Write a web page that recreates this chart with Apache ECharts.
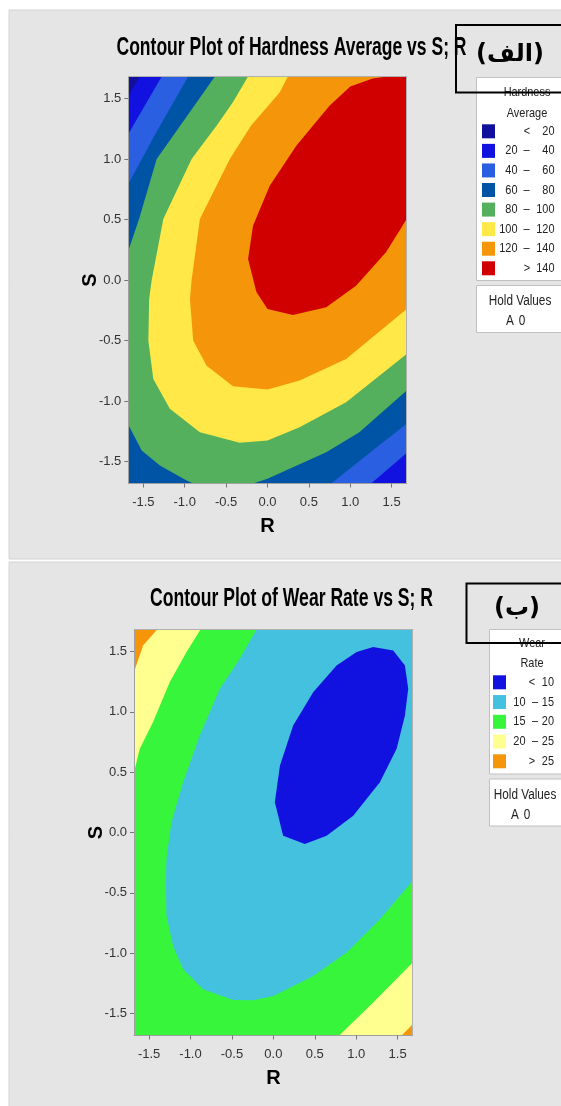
<!DOCTYPE html>
<html>
<head>
<meta charset="utf-8">
<script src="https://cdn.jsdelivr.net/npm/echarts@6.0.0/dist/echarts.min.js"></script>
<style>
html,body{margin:0;padding:0;background:#ffffff;}
#chart{width:561px;height:1106px;}
</style>
</head>
<body>
<div id="chart"></div>
<script>
// ---------------- data ----------------
const axisLimit = 1.682;
const tickValues = [-1.5, -1.0, -0.5, 0.0, 0.5, 1.0, 1.5];

const titleHardness = 'Contour Plot of Hardness Average vs S; R';
const titleWear = 'Contour Plot of Wear Rate vs S; R';

// Hardness Average bands (low label, high label, colour)
const hardnessLow = ['<', '20', '40', '60', '80', '100', '120', '>'];
const hardnessHigh = ['20', '40', '60', '80', '100', '120', '140', '140'];
const hardnessColors = ['#10109c', '#1212e0', '#2a5fe2', '#0054a6', '#54b05c', '#ffe847', '#f5960a', '#d10000'];

// Wear Rate bands
const wearLow = ['<', '10', '15', '20', '>'];
const wearHigh = ['10', '15', '20', '25', '25'];
const wearColors = ['#1212e0', '#45c1e0', '#37f53a', '#ffff90', '#f5960a'];

// Hardness superlevel regions (boundaries, in R,S units)
const hardnessAbove20 = [[-1.54, 1.682], [1.682, 1.682], [1.682, -1.682], [-1.682, -1.682], [-1.682, 1.52]];
const hardnessAbove40 = [[-1.278, 1.682], [1.682, 1.682], [1.682, -1.429], [1.252, -1.682], [-1.682, -1.682], [-1.682, 1.206]];
const hardnessAbove60 = [[-0.958, 1.682], [1.682, 1.682], [1.682, -1.189], [1.27, -1.41], [0.77, -1.682], [-1.682, -1.682], [-1.682, 0.793], [-1.36, 1.2]];
const hardnessAbove80 = [[-0.636, 1.682], [1.682, 1.682], [1.682, -0.914], [1.11, -1.258], [0.71, -1.423], [0.0, -1.643], [-0.175, -1.682], [-0.898, -1.682], [-0.977, -1.657], [-1.30, -1.533], [-1.52, -1.41], [-1.682, -1.197], [-1.682, 0.242], [-1.552, 0.504], [-1.339, 1.0], [-0.857, 1.467]];
const hardnessAbove100 = [[-0.235, 1.682], [1.682, 1.682], [1.682, -0.611], [0.95, -1.01], [0.388, -1.217], [0.0, -1.327], [-0.335, -1.346], [-0.817, -1.258], [-1.18, -1.065], [-1.38, -0.818], [-1.44, -0.5], [-1.43, -0.157], [-1.399, 0.0], [-1.259, 0.504], [-0.917, 1.0], [-0.616, 1.274], [-0.42, 1.467]];
const hardnessAbove120 = [[0.247, 1.682], [1.682, 1.682], [1.682, -0.24], [0.95, -0.652], [0.388, -0.831], [0.0, -0.906], [-0.416, -0.878], [-0.736, -0.708], [-0.898, -0.5], [-0.937, -0.157], [-0.917, 0.0], [-0.817, 0.504], [-0.455, 1.0], [-0.2, 1.274], [0.147, 1.55]];
const hardnessAbove140 = [[1.45, 1.682], [1.682, 1.682], [1.682, 0.504], [1.432, 0.229], [1.07, -0.047], [0.71, -0.225], [0.307, -0.289], [0.0, -0.24], [-0.134, -0.10], [-0.235, 0.173], [-0.175, 0.448], [0.027, 0.779], [0.348, 1.109], [0.749, 1.44], [1.0, 1.6], [1.27, 1.665]];

// Wear Rate sublevel regions
const wearBelow25 = [[-1.403, 1.682], [1.682, 1.682], [1.682, -1.589], [1.548, -1.682], [-1.682, -1.682], [-1.682, 1.329], [-1.572, 1.55]];
const wearBelow20 = [[-0.879, 1.682], [1.682, 1.682], [1.682, -1.077], [1.205, -1.409], [0.795, -1.682], [-1.682, -1.682], [-1.682, 0.5], [-1.612, 0.693], [-1.452, 0.915], [-1.25, 1.246], [-1.048, 1.495]];
const wearBelow15 = [[-0.203, 1.682], [1.682, 1.682], [1.682, -0.40], [1.286, -0.718], [0.884, -0.994], [0.481, -1.188], [0.0, -1.354], [-0.244, -1.39], [-0.486, -1.387], [-0.848, -1.299], [-1.089, -1.133], [-1.21, -0.94], [-1.29, -0.69], [-1.298, -0.413], [-1.29, -0.22], [-1.23, 0.085], [-1.089, 0.417], [-0.888, 0.803], [-0.646, 1.191], [-0.405, 1.44]];
const wearBelow10 = [[1.205, 1.537], [1.447, 1.509], [1.588, 1.384], [1.628, 1.191], [1.588, 0.969], [1.488, 0.693], [1.286, 0.417], [0.964, 0.139], [0.643, -0.027], [0.38, -0.095], [0.118, -0.027], [0.018, 0.25], [0.079, 0.554], [0.239, 0.886], [0.481, 1.163], [0.763, 1.384], [1.005, 1.495]];

// ---------------- layout / style ----------------
const FONT = '"Liberation Sans Narrow", "Liberation Sans", Arial, sans-serif';
const panelColor = '#e5e5e5';
const NARROW_SCALE = 0.84;

const chart = echarts.init(document.getElementById('chart'), null, {renderer: 'canvas'});

function measure(text, font) {
  const c = document.createElement('canvas').getContext('2d');
  c.font = font;
  return c.measureText(text).width;
}

function polySeries(points, color, gridIdx) {
  return {
    type: 'custom',
    xAxisIndex: gridIdx * 2,
    yAxisIndex: gridIdx * 2,
    clip: true,
    silent: true,
    z: 2,
    data: [[0, 0]],
    renderItem: function (params, api) {
      return {
        type: 'polygon',
        shape: {points: points.map(function (p) { return api.coord(p); })},
        style: {fill: color}
      };
    }
  };
}

function mainXAxis(gridIdx) {
  return {
    gridIndex: gridIdx, type: 'value', min: -axisLimit, max: axisLimit, z: 10,
    name: 'R', nameLocation: 'middle', nameGap: 33, nameMoveOverlap: false,
    nameTextStyle: {fontFamily: FONT, fontWeight: 'bold', fontSize: 20, color: '#000'},
    axisLine: {show: true, onZero: false, lineStyle: {color: '#a0a0a0', width: 1}},
    axisTick: {show: true, customValues: tickValues, length: 4, lineStyle: {color: '#777'}},
    axisLabel: {customValues: tickValues, margin: 12, fontFamily: FONT, fontSize: 13, color: '#333',
      formatter: function (v) { return v.toFixed(1); }},
    splitLine: {show: false}
  };
}
function mainYAxis(gridIdx) {
  return {
    gridIndex: gridIdx, type: 'value', min: -axisLimit, max: axisLimit, z: 10,
    name: 'S', nameLocation: 'middle', nameGap: 28, nameRotate: 90, nameMoveOverlap: false,
    nameTextStyle: {fontFamily: FONT, fontWeight: 'bold', fontSize: 20, color: '#000'},
    axisLine: {show: true, onZero: false, lineStyle: {color: '#a0a0a0', width: 1}},
    axisTick: {show: true, customValues: tickValues, length: 4, lineStyle: {color: '#777'}},
    axisLabel: {customValues: tickValues, margin: 7, fontFamily: FONT, fontSize: 13, color: '#333',
      formatter: function (v) { return v.toFixed(1); }},
    splitLine: {show: false}
  };
}
function frameAxis(gridIdx, kind) {
  return {
    gridIndex: gridIdx, type: 'value', min: -axisLimit, max: axisLimit, z: 10,
    position: kind === 'x' ? 'top' : 'right',
    axisLine: {show: true, onZero: false, lineStyle: {color: '#b0b0b0', width: 1}},
    axisTick: {show: false}, axisLabel: {show: false}, splitLine: {show: false}
  };
}

function titleText(text, cx, cy, target) {
  const font = 'bold 25px ' + FONT;
  const w = measure(text, font);
  return {
    type: 'text', x: cx, y: cy, scaleX: target / w, z: 20,
    style: {text: text, font: font, fill: '#000', textAlign: 'center', textVerticalAlign: 'middle'}
  };
}

function txt(text, x, y, align, size) {
  return {type: 'text', z: 16, x: x, y: y, scaleX: NARROW_SCALE,
    style: {text: text, font: size + 'px ' + FONT, fill: '#222', textAlign: align, textVerticalAlign: 'middle'}};
}

function legendGraphics(cfg) {
  const els = [];
  els.push({type: 'rect', z: 15, shape: {x: cfg.x, y: cfg.y, width: 120, height: cfg.h},
    style: {fill: '#fff', stroke: '#c0c0c0', lineWidth: 1}});
  cfg.header.forEach(function (t, i) {
    els.push(txt(t, cfg.headerX, cfg.headerY[i], 'center', 13));
  });
  cfg.colors.forEach(function (c, i) {
    const yc = cfg.rowY0 + i * cfg.rowStep;
    els.push({type: 'rect', z: 16, shape: {x: cfg.swX, y: yc - 7, width: 13, height: 14}, style: {fill: c}});
    const lo = cfg.low[i];
    if (lo === '<' || lo === '>') {
      els.push(txt(lo, cfg.symX, yc, 'center', 13));
    } else {
      els.push(txt(lo, cfg.lowX, yc, 'right', 13));
      els.push(txt('–', cfg.dashX, yc, 'center', 13));
    }
    els.push(txt(cfg.high[i], cfg.highX, yc, 'right', 13));
  });
  els.push({type: 'rect', z: 15, shape: {x: cfg.x, y: cfg.holdY, width: 120, height: 47},
    style: {fill: '#fff', stroke: '#c0c0c0', lineWidth: 1}});
  els.push(txt('Hold Values', cfg.holdCX, cfg.holdY + 16, 'center', 14));
  els.push(txt('A', cfg.holdCX - 10, cfg.holdY + 36, 'center', 14));
  els.push(txt('0', cfg.holdCX + 2, cfg.holdY + 36, 'center', 14));
  return els;
}

const graphics = [
  {type: 'rect', z: -10, shape: {x: 9, y: 10, width: 560, height: 549}, style: {fill: panelColor, stroke: '#d4d4d4', lineWidth: 1}},
  {type: 'rect', z: -10, shape: {x: 9, y: 562, width: 560, height: 550}, style: {fill: panelColor, stroke: '#d4d4d4', lineWidth: 1}},
  titleText(titleHardness, 291.5, 48, 350),
  titleText(titleWear, 291.5, 599, 283)
].concat(legendGraphics({
  x: 476.5, y: 77.5, h: 203, header: ['Hardness', 'Average'], headerX: 527, headerY: [92, 113],
  colors: hardnessColors, low: hardnessLow, high: hardnessHigh,
  rowY0: 131.3, rowStep: 19.57, swX: 482, lowX: 517.5, dashX: 526.5, symX: 527, highX: 554.5,
  holdY: 285.5, holdCX: 520
})).concat(legendGraphics({
  x: 489.5, y: 629.5, h: 144.5, header: ['Wear', 'Rate'], headerX: 532, headerY: [643, 663],
  colors: wearColors, low: wearLow, high: wearHigh,
  rowY0: 682.3, rowStep: 19.75, swX: 493, lowX: 525.5, dashX: 535, symX: 532, highX: 554,
  holdY: 779, holdCX: 525
})).concat([
  {type: 'rect', z: 30, shape: {x: 456, y: 25, width: 130, height: 67.5}, style: {fill: 'none', stroke: '#000', lineWidth: 2}},
  {type: 'text', z: 31, x: 510, y: 55, style: {text: '(الف)', font: 'bold 24px "DejaVu Sans", sans-serif', fill: '#000', textAlign: 'center', textVerticalAlign: 'middle'}},
  {type: 'rect', z: 30, shape: {x: 466.5, y: 583.5, width: 130, height: 59.5}, style: {fill: 'none', stroke: '#000', lineWidth: 2}},
  {type: 'text', z: 31, x: 517, y: 609, style: {text: '(ب)', font: 'bold 24px "DejaVu Sans", sans-serif', fill: '#000', textAlign: 'center', textVerticalAlign: 'middle'}}
]);

const option = {
  animation: false,
  backgroundColor: '#ffffff',
  grid: [
    {left: 128.3, top: 76.5, width: 278.4, height: 407, show: true, backgroundColor: hardnessColors[0], borderWidth: 0},
    {left: 134, top: 629.5, width: 278.7, height: 406, show: true, backgroundColor: wearColors[4], borderWidth: 0}
  ],
  xAxis: [mainXAxis(0), frameAxis(0, 'x'), mainXAxis(1), frameAxis(1, 'x')],
  yAxis: [mainYAxis(0), frameAxis(0, 'y'), mainYAxis(1), frameAxis(1, 'y')],
  series: [
    polySeries(hardnessAbove20, hardnessColors[1], 0),
    polySeries(hardnessAbove40, hardnessColors[2], 0),
    polySeries(hardnessAbove60, hardnessColors[3], 0),
    polySeries(hardnessAbove80, hardnessColors[4], 0),
    polySeries(hardnessAbove100, hardnessColors[5], 0),
    polySeries(hardnessAbove120, hardnessColors[6], 0),
    polySeries(hardnessAbove140, hardnessColors[7], 0),
    polySeries(wearBelow25, wearColors[3], 1),
    polySeries(wearBelow20, wearColors[2], 1),
    polySeries(wearBelow15, wearColors[1], 1),
    polySeries(wearBelow10, wearColors[0], 1)
  ],
  graphic: graphics
};
chart.setOption(option);
</script>
</body>
</html>
